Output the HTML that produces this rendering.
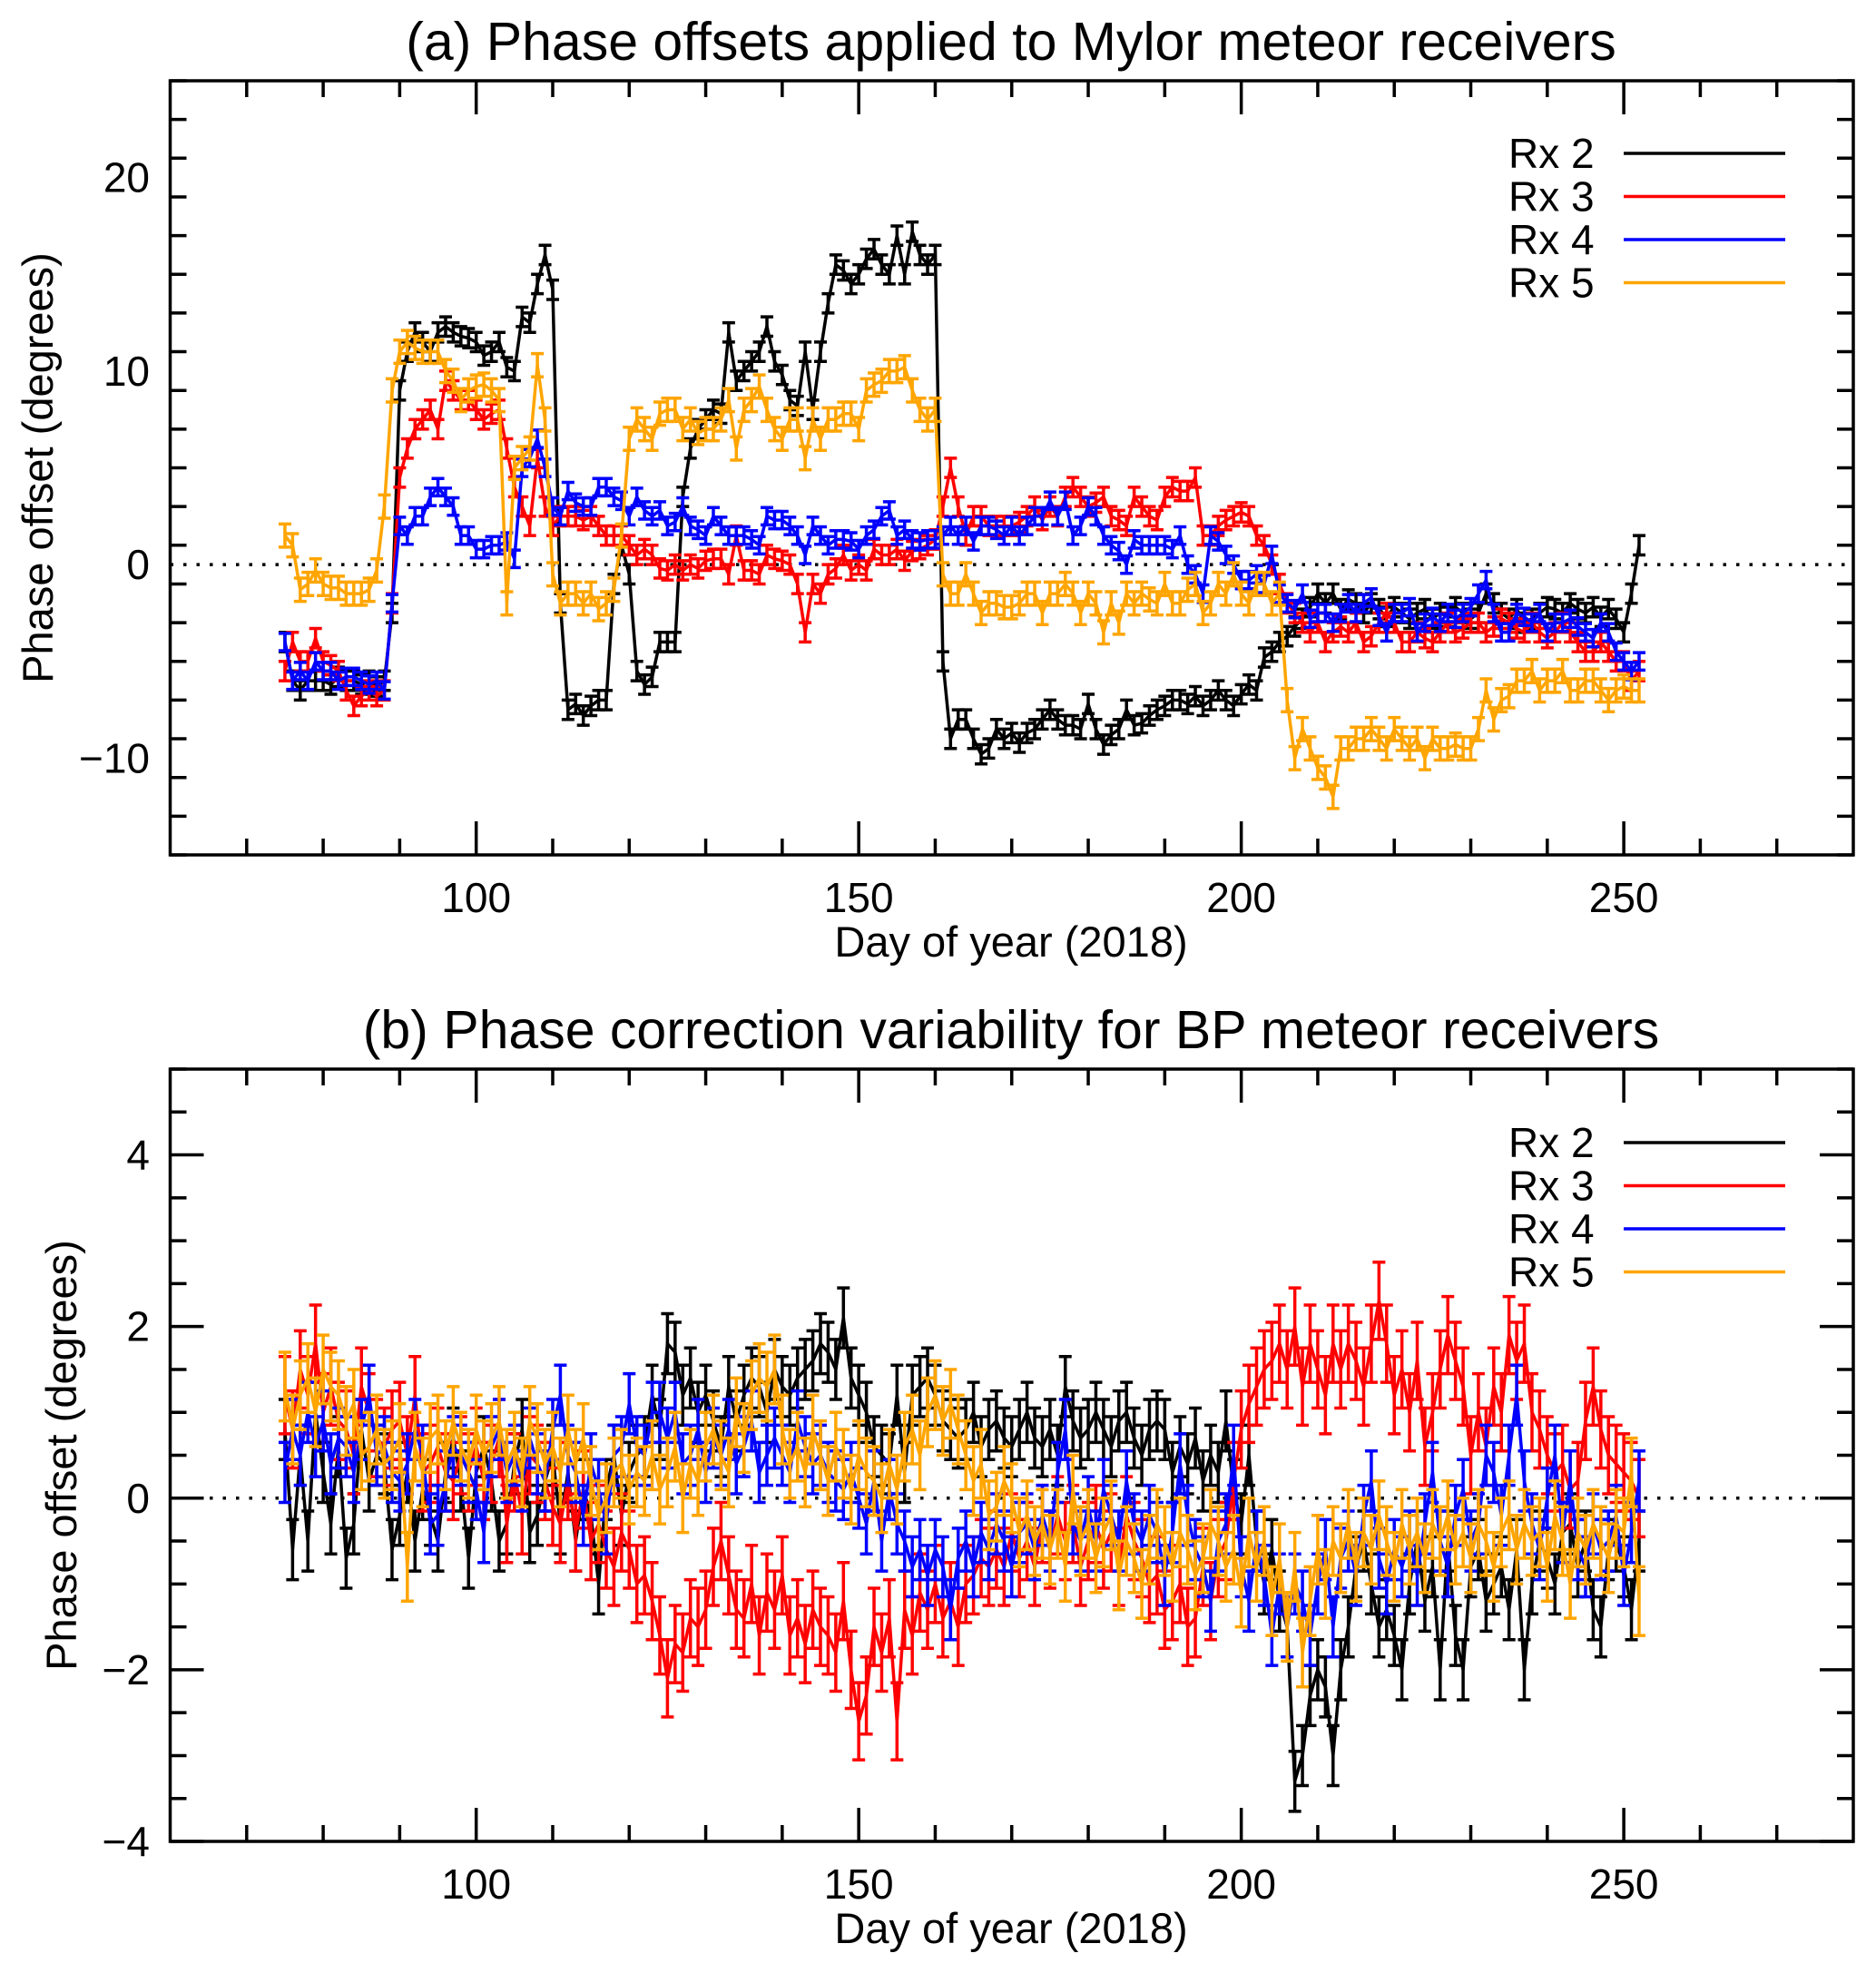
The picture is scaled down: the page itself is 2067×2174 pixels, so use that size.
<!DOCTYPE html>
<html><head><meta charset="utf-8"><style>
html,body{margin:0;padding:0;background:#fff;}
svg{display:block;font-family:"Liberation Sans",Arial,sans-serif;}
</style></head><body>
<svg id="chart" width="2067" height="2174" viewBox="0 0 2067 2174" xmlns="http://www.w3.org/2000/svg"></svg>
<script>
// ---- data ----
const startDay = 75;
const seriesNames = ["Rx 2","Rx 3","Rx 4","Rx 5"];
const seriesColors = ["#000000","#ff0000","#0000ff","#ffa500"];
// Panel (a)
const aRx2 = [-4,-6,-6.5,-6,-6,-6,-6.2,-5.8,-6,-6,-6.2,-6,-6.3,-6,
-2.5,9,11,12,11.5,11,12,12.3,12,11.8,11.7,11.5,10.8,11,11.5,10.2,10,12.8,12.5,14.5,16,14.2,-2,-7.5,-7.2,-7.8,-7.3,-7,-7,-1,1,-0.5,-5.5,-6.2,-5.8,-4,-4,-4,3.5,6,7,7.5,8,7.8,12,9.5,10,10.5,11,12.3,10.5,9.8,8.5,8.2,11,8,11,13.5,15.5,15.2,14.5,15,15.8,16.3,15.5,15,17,15,17.2,16,15.5,16,-5,-9,-8,-8,-9,-9.8,-9.5,-8.5,-9,-8.7,-9.2,-8.7,-8.5,-8,-7.5,-8,-8.3,-8.3,-8.5,-7.2,-8.5,-9.3,-8.8,-8.5,-7.5,-8.3,-8.2,-7.8,-7.5,-7.3,-7,-7,-7.2,-6.8,-7.3,-7,-6.5,-7,-7.3,-6.7,-6.2,-6.5,-4.8,-4.5,-4,-3.7,-3.2,-2.8,-2.2,-1.5,-2,-1.5,-2.3,-1.8,-2,-2.5,-2,-2.3,-2.7,-2.2,-2.5,-2.8,-2.5,-2.3,-2.8,-2.5,-2.7,-2.2,-2.5,-2.8,-2.5,-1.5,-2,-2.5,-2.8,-2.3,-3,-2.8,-2.5,-2.2,-2.3,-2.5,-2,-2.3,-2.5,-2.2,-2.7,-2.3,-2.8,-3.5,-1.5,1];
const aRx3 = [-5.5,-4,-5,-5,-3.8,-5,-5.2,-5.5,-6.5,-7.3,-6.8,-6.5,-6.8,-6.5,
-2,4.5,6,7,7.5,8,7,9.5,9,8.5,8.5,8,7.5,7.8,8,6,4,3,2,5.5,3,2,2.5,2.5,2.5,2.3,2.5,2,1.5,1.5,1.5,1,0.5,0.8,0.5,-0.2,-0.3,0,-0.3,0,-0.2,0.2,0.3,0.3,-0.5,1.5,-0.3,-0.3,-0.5,0.5,0.3,0.2,0,-1,-3.5,-1,-1.5,-0.5,-0.2,0.5,-0.3,0,-0.3,0.8,0.5,0.5,0.8,0.2,0.7,0.8,1,1.3,3,5,3,1.5,2.5,2.5,2,2,2,2,2.2,2.5,3,2.3,3,2.5,3.5,4,3.5,3,3.2,3.5,2.5,2.3,2,3.5,3,2.5,2.3,3.5,4,3.8,3.8,4.5,1.5,1.5,2,2.3,2.5,2.7,2.5,1.5,1,0,-1,-2,-2.5,-3,-3.5,-3,-4,-3.5,-3.2,-3.5,-3,-4,-3.7,-3,-2.5,-3,-4,-4,-3.5,-3.8,-4,-3.5,-3,-3.5,-3.3,-3,-3,-3.5,-3.2,-2.8,-3,-3.3,-3.5,-3,-3.5,-3.8,-3.5,-3,-3.5,-4,-4.5,-4.5,-4,-4.5,-5,-5,-6,-5.5];
const aRx4 = [-4,-6,-5.5,-6,-5,-5.5,-5.5,-6,-5.8,-5.8,-6,-6.2,-6,-6.5,
-2,2,1.5,2.5,2.5,3.5,4,3.5,3,1.5,1.5,0.8,0.8,1,1,1.2,0.3,5,5.5,6.5,5,3,2.5,3.8,3.2,3,3,4,4,3.5,3.3,2.5,3.5,2.8,2.5,2.8,2,2.2,3,2,1.8,1.5,2.5,2,1.5,1.5,1.5,1.3,1,2.5,2.3,2.3,2,1.5,0.5,2,1.5,1,1.3,1.3,1.2,0.8,1.5,1.8,2.5,2.8,1.5,1.8,1.3,1.2,1.3,1.3,1.5,2,1.5,2,1.2,2,2,1.8,1.5,2,1.5,2,2.5,2.5,3.3,2.5,3.3,1.5,2,3,2.5,1.5,1,0.7,0,1.3,1,1,1,1,0.8,1.5,0,-0.5,-1.5,1.5,1.2,0.5,0,-0.8,-0.8,-0.5,-1,0.5,-1.5,-2,-2.3,-1.5,-2.8,-2.5,-2.5,-3,-2.5,-2,-2.5,-2,-1.7,-2.7,-3.5,-2.5,-2.5,-2.2,-3.5,-3,-2.7,-3,-2.5,-2.8,-2.5,-2.2,-1.5,-0.8,-2.5,-3.5,-3.5,-2.5,-2.7,-3,-2.5,-3.5,-3,-3,-2.8,-3.2,-3.5,-3.8,-3,-3.5,-4.5,-5,-5.5,-5];
const aRx5 = [1.5,1,-1.3,-1,-0.3,-1,-1.2,-1.2,-1.5,-1.5,-1.5,-1.3,-0.3,3,
9,11,11.5,11.2,11,11,11,10,9.5,8.5,9,9.2,9.3,9,8.5,-2,5,5.5,6,10.3,7.5,-0.5,-2,-1.5,-1.5,-2,-1.5,-2.3,-2,-1.3,1.5,6.5,7.5,7,6.5,7.8,8,8,7,7.5,6.8,7,7,7.5,8.5,6,8,8.5,9.2,8,7,6.5,7.5,7.5,5.5,7.5,6.5,7.5,7.5,7.8,7.8,7,9,9.3,9.5,10,10,10.2,9,8,7.5,8,-0.5,-1.5,-1.5,-0.5,-1.5,-2.5,-2,-2,-2.2,-2.2,-2,-1.5,-1.5,-2.5,-1.5,-1.5,-1,-1.5,-2.5,-1.5,-2,-3.5,-2,-3,-1.5,-2,-1.5,-1.8,-2,-1,-2,-2,-1.3,-1,-2.5,-2,-1,-1.5,-0.5,-1.5,-2,-1,-1,-2,-1.5,-7,-10,-8.5,-9.5,-10.5,-11,-12,-9.5,-9.5,-9,-9,-8.5,-9,-9.5,-8.5,-9,-9.5,-9,-10,-9,-9.5,-9.5,-9.3,-9.5,-9.5,-8.5,-6.5,-8,-7,-6.8,-6,-6,-5.5,-6.5,-6,-6,-5.5,-6.5,-6.5,-6,-6,-6.5,-7,-6.5,-6.3,-6.5,-6.5];
const aErr = [0.5,0.5,0.45,0.6];
// Panel (b)
const bRx2 = [0.8,-0.6,0.5,-0.5,1.0,0.3,-0.3,0.6,-0.7,-0.3,0.8,0.2,0.5,0.4,-0.6,-0.2,0.3,-0.5,0.1,-0.2,-0.5,0.3,0.7,0.2,-0.7,
0.3,0.6,0.2,-0.5,-0.3,0.4,0.8,-0.4,-0.2,0.2,0.5,-0.3,0.3,-0.5,0.1,-0.2,-1.0,0.1,0.5,-0.2,0.3,0.5,0.6,1.2,0.8,
1.8,1.7,1.2,1.4,1.0,1.2,0.9,0.6,1.3,0.9,1.2,1.4,1.3,1.0,1.5,1.3,1.2,1.4,1.5,1.6,1.8,1.7,1.5,2.1,1.4,
1.2,1.0,0.6,0.5,0.4,1.2,0.3,1.2,1.3,1.4,1.2,0.9,0.8,0.7,0.8,1.0,0.6,0.8,0.9,0.7,0.6,0.8,1.0,0.7,0.6,
0.8,0.5,1.3,0.9,0.7,0.8,1.0,0.8,0.6,0.9,1.0,0.7,0.5,0.8,0.9,0.8,0.3,0.6,0.4,0.7,0.2,0.5,0.3,0.9,0.1,
-0.3,0.5,-0.5,-1.0,-0.6,-1.2,-1.5,-3.3,-3.0,-2.3,-2.0,-2.2,-3.0,-2.0,-1.5,-0.8,-0.5,-1.0,-1.5,-1.3,-1.6,-2.0,-1.0,-0.5,-1.2,
-0.8,-2.0,-0.5,-1.6,-2.0,-0.8,-0.6,-1.2,-1.0,-0.8,-1.3,-0.6,-2.0,-1.0,-0.5,-0.7,-1.0,-0.4,-0.3,-0.8,-0.5,-1.3,-1.5,-0.6,-0.5,-0.8,-1.3,-0.5];
const bRx3 = [1.2,0.8,1.5,1.2,1.8,1.0,1.3,0.9,0.8,0.5,1.3,1.0,0.7,0.6,0.8,0.9,0.5,1.2,0.3,0.4,0.6,0.3,0.2,0.5,0.3,
0.6,0.2,0.4,0.7,-0.3,0.3,-0.2,0.5,0.4,0.2,-0.1,-0.3,0.2,-0.4,0.1,-0.5,-0.3,-0.6,-0.8,-0.4,-0.6,-1.0,-0.9,-1.2,-1.6,
-2.1,-1.7,-1.8,-1.4,-1.5,-1.3,-0.8,-0.5,-0.9,-1.3,-1.4,-1.0,-1.6,-1.1,-1.3,-0.9,-1.6,-1.4,-1.7,-1.3,-1.5,-1.6,-1.8,-1.2,-2.0,
-2.6,-2.3,-1.5,-1.8,-1.4,-2.6,-1.3,-1.6,-1.1,-1.3,-1.0,-1.4,-1.2,-1.5,-1.0,-0.9,-0.7,-0.8,-0.6,-0.8,-0.4,-0.7,-0.5,-0.8,-0.3,
-0.6,-0.2,-0.5,-0.3,-0.8,-0.5,-0.3,-0.6,-0.4,-0.8,-0.2,-0.5,-0.7,-1.0,-0.9,-1.3,-1.2,-1.0,-1.5,-1.4,-0.8,-1.2,-0.7,-0.5,0.2,
0.8,1.1,1.3,1.5,1.6,1.8,1.5,2.0,1.3,1.8,1.5,1.2,1.8,1.5,1.8,1.6,1.3,1.8,2.3,1.8,1.2,1.5,1.0,1.6,0.6,
1.0,1.5,1.9,1.6,1.3,0.5,1.0,0.6,1.3,1.0,1.9,1.6,1.8,1.0,0.8,0.5,0.3,0.4,0.1,0.2,0.9,1.3,0.8,0.5,0.4,0.3,0.2,0.0];
const bRx4 = [0.3,0.8,0.5,1.0,0.6,0.9,0.4,0.7,0.6,0.3,0.8,1.2,0.5,0.6,0.3,0.2,0.4,0.8,0.5,-0.3,-0.2,0.2,0.6,0.5,0.3,
0.1,-0.4,0.6,0.8,0.3,0.5,0.2,0.7,0.4,0.2,0.8,1.2,0.5,0.3,-0.2,0.4,0.1,-0.3,0.5,0.6,1.1,0.6,0.5,1.0,1.0,
0.7,1.0,0.4,0.5,0.8,0.3,0.7,0.5,0.8,0.4,0.6,0.9,0.3,0.5,0.7,0.5,0.3,0.9,0.6,0.4,0.5,0.3,0.2,0.1,0.3,
0.0,-0.3,0.2,-0.5,0.1,-0.3,-0.5,-0.8,-0.6,-0.9,-0.6,-0.8,-1.3,-0.7,-0.5,-0.8,-0.4,-0.6,-0.3,-0.5,-0.8,-0.4,-0.3,-0.6,-0.2,
-0.5,0.3,0.8,-0.3,-0.5,-0.1,-0.5,0.1,-0.2,-0.5,0.2,-0.3,-0.5,-0.2,-0.4,-0.9,-0.4,0.4,-0.2,-0.6,-0.8,-1.2,-0.5,-0.3,0.5,
-0.8,-1.2,-0.5,-0.9,-1.6,-1.0,-1.5,-1.0,-1.2,-1.6,-1.0,-0.6,-1.5,-0.7,-0.5,-0.9,-0.2,0.2,-0.7,-1.0,-0.6,-0.8,-0.5,-0.9,-0.3,
0.3,-0.5,-0.8,-0.2,0.1,-0.5,-0.3,0.5,0.3,-0.2,0.5,1.2,0.2,-0.3,-0.6,0.0,0.5,-0.4,0.2,-0.6,-0.8,-0.3,-0.6,-0.5,-0.2,-0.9,-0.4,0.2];
const bRx5 = [1.3,0.8,1.2,1.4,1.0,1.5,1.3,1.2,0.9,1.1,0.5,0.6,0.8,0.4,0.5,0.7,-0.8,0.6,0.3,0.7,0.8,0.5,0.9,0.6,0.4,
0.8,0.5,0.7,0.9,0.4,0.6,0.3,0.9,0.7,0.4,0.6,0.3,0.8,0.4,0.7,0.2,-0.2,0.0,0.3,0.4,0.1,0.3,0.2,0.5,0.1,
0.3,0.6,0.0,0.4,0.2,0.6,0.8,0.5,0.3,1.0,0.7,1.2,1.4,1.3,1.5,0.8,0.4,0.6,0.3,0.8,0.5,0.2,0.6,0.4,0.1,
0.5,0.3,0.2,0.0,0.4,0.1,0.6,0.8,0.5,1.0,1.2,0.9,1.1,0.8,0.5,0.2,0.4,-0.2,-0.1,0.2,0.0,-0.4,-0.2,-0.5,-0.3,
-0.6,-0.3,-0.8,0.1,-0.5,-0.3,-0.7,-0.4,-0.2,-0.9,-0.5,-0.7,-1.0,-0.6,-0.3,-0.5,-0.8,-0.4,-0.6,-0.9,-0.7,-0.3,-0.5,-0.8,-0.6,
-1.1,-0.4,-0.8,-0.5,-1.2,-0.7,-1.5,-0.8,-1.8,-1.2,-0.6,-1.0,-0.5,-0.7,-0.3,-0.8,-0.4,-0.6,-0.2,-0.5,-0.8,-0.3,-0.6,-0.4,-0.7,
-0.3,-0.5,-0.2,-0.6,-0.4,-0.7,-0.3,-0.5,-0.8,-0.4,-0.2,-0.6,-0.3,-0.5,-0.4,-0.8,-0.2,-0.5,-1.0,-0.4,-0.6,-0.3,-0.5,-0.7,-0.3,-0.4,0.3,-1.2];
const bErr = [0.35,0.45,0.35,0.4];
const xTicks = [100,150,200,250];
const aYTicks = [-10,0,10,20];
const bYTicks = [-4,-2,0,2,4];

// ---- drawing ----
const NS = "http://www.w3.org/2000/svg";
const svg = document.getElementById('chart');
function mk(tag, attrs, parent){
  const e = document.createElementNS(NS, tag);
  for (const k in attrs) e.setAttribute(k, attrs[k]);
  (parent||svg).appendChild(e);
  return e;
}
const X0 = 187.5, X1 = 2042, XMIN = 60, XMAX = 280;
function xs(d){ return X0 + (d - XMIN) / (XMAX - XMIN) * (X1 - X0); }

function panel(cfg){
  const g = mk('g', {});
  
  
  const ys = v => cfg.y1 - (v - cfg.ymin) / (cfg.ymax - cfg.ymin) * (cfg.y1 - cfg.y0);
  const t = mk('text', {x: 1114, y: cfg.titleY, 'font-size': 59, 'text-anchor': 'middle', fill: '#000'}, g);
  t.textContent = cfg.title;
  
  
  const z = mk('line', {x1: X0, x2: X1, y1: ys(0), y2: ys(0), stroke: '#000', 'stroke-width': 3.5, 'stroke-dasharray': '3.5,11'}, g);
  
  
  cfg.series.forEach((vals, si) => {
    const sg = mk('g', {stroke: seriesColors[si], 'stroke-width': 3.5, fill: 'none'}, g);
    
    
    let pts = [];
    const er = cfg.err[si];
    vals.forEach((v, i) => {
      const x = xs(startDay + i), y = ys(v);
      pts.push(x.toFixed(1) + ',' + y.toFixed(1));
      const ya = ys(v + er), yb = ys(v - er);
      mk('path', {d: `M${x},${ya}V${yb}M${x-7},${ya}H${x+7}M${x-7},${yb}H${x+7}`}, sg);
    });
    mk('polyline', {points: pts.join(' ')}, sg);
  });
  const fr = mk('rect', {x: X0, y: cfg.y0, width: X1 - X0, height: cfg.y1 - cfg.y0, fill: 'none', stroke: '#000', 'stroke-width': 3.5}, g);
  
  
  let d = '';
  for (let v = 70; v <= 270; v += 10) {
    const L = (v % 50 === 0) ? 37 : 18, x = xs(v);
    d += `M${x},${cfg.y1}V${cfg.y1 - L}M${x},${cfg.y0}V${cfg.y0 + L}`;
  }
  for (let v = cfg.ymin; v <= cfg.ymax + 1e-9; v += cfg.minor) {
    const isMaj = cfg.yTicks.some(tv => Math.abs(tv - v) < 1e-6);
    const L = isMaj ? 37 : 18, y = ys(v);
    d += `M${X0},${y}H${X0 + L}M${X1},${y}H${X1 - L}`;
  }
  mk('path', {d: d, stroke: '#000', 'stroke-width': 3.5, fill: 'none'}, g);
  xTicks.forEach(v => {
    const tl = mk('text', {x: xs(v), y: cfg.y1 + 63, 'font-size': 46, 'text-anchor': 'middle'}, g);
    tl.textContent = v;
    
    
  });
  cfg.yTicks.forEach(v => {
    const tl = mk('text', {x: 165, y: ys(v) + 16, 'font-size': 46, 'text-anchor': 'end'}, g);
    tl.textContent = v < 0 ? '\u2212' + Math.abs(v) : String(v);
    
    
  });
  const xt = mk('text', {x: 1114, y: cfg.y1 + 112, 'font-size': 47, 'text-anchor': 'middle'}, g);
  xt.textContent = 'Day of year (2018)';
  
  
  const cy = (cfg.y0 + cfg.y1) / 2;
  const yt = mk('text', {x: cfg.yTitleX, y: cy, 'font-size': 47, 'text-anchor': 'middle', transform: `rotate(-90 ${cfg.yTitleX} ${cy})`}, g);
  yt.textContent = 'Phase offset (degrees)';
  
  
  const lg = mk('g', {}, g);
  
  
  seriesNames.forEach((n, i) => {
    const by = cfg.legY + i * 47.5;
    const lt = mk('text', {x: 1662, y: by, 'font-size': 46}, lg);
    lt.textContent = n;
    
    
    const ll = mk('line', {x1: 1789, x2: 1967, y1: by - 16, y2: by - 16, stroke: seriesColors[i], 'stroke-width': 3.5}, lg);
    
    
  });
}
panel({name: 'panel-a', title: '(a) Phase offsets applied to Mylor meteor receivers', titleY: 66,
  y0: 89, y1: 942, ymin: -15, ymax: 25, minor: 2, yTicks: aYTicks,
  series: [aRx2, aRx3, aRx4, aRx5], err: aErr, yTitleX: 58, legY: 185});
panel({name: 'panel-b', title: '(b) Phase correction variability for BP meteor receivers', titleY: 1155,
  y0: 1178, y1: 2029, ymin: -4, ymax: 5, minor: 0.5, yTicks: bYTicks,
  series: [bRx2, bRx3, bRx4, bRx5], err: bErr, yTitleX: 84, legY: 1275});
</script>
</body></html>
